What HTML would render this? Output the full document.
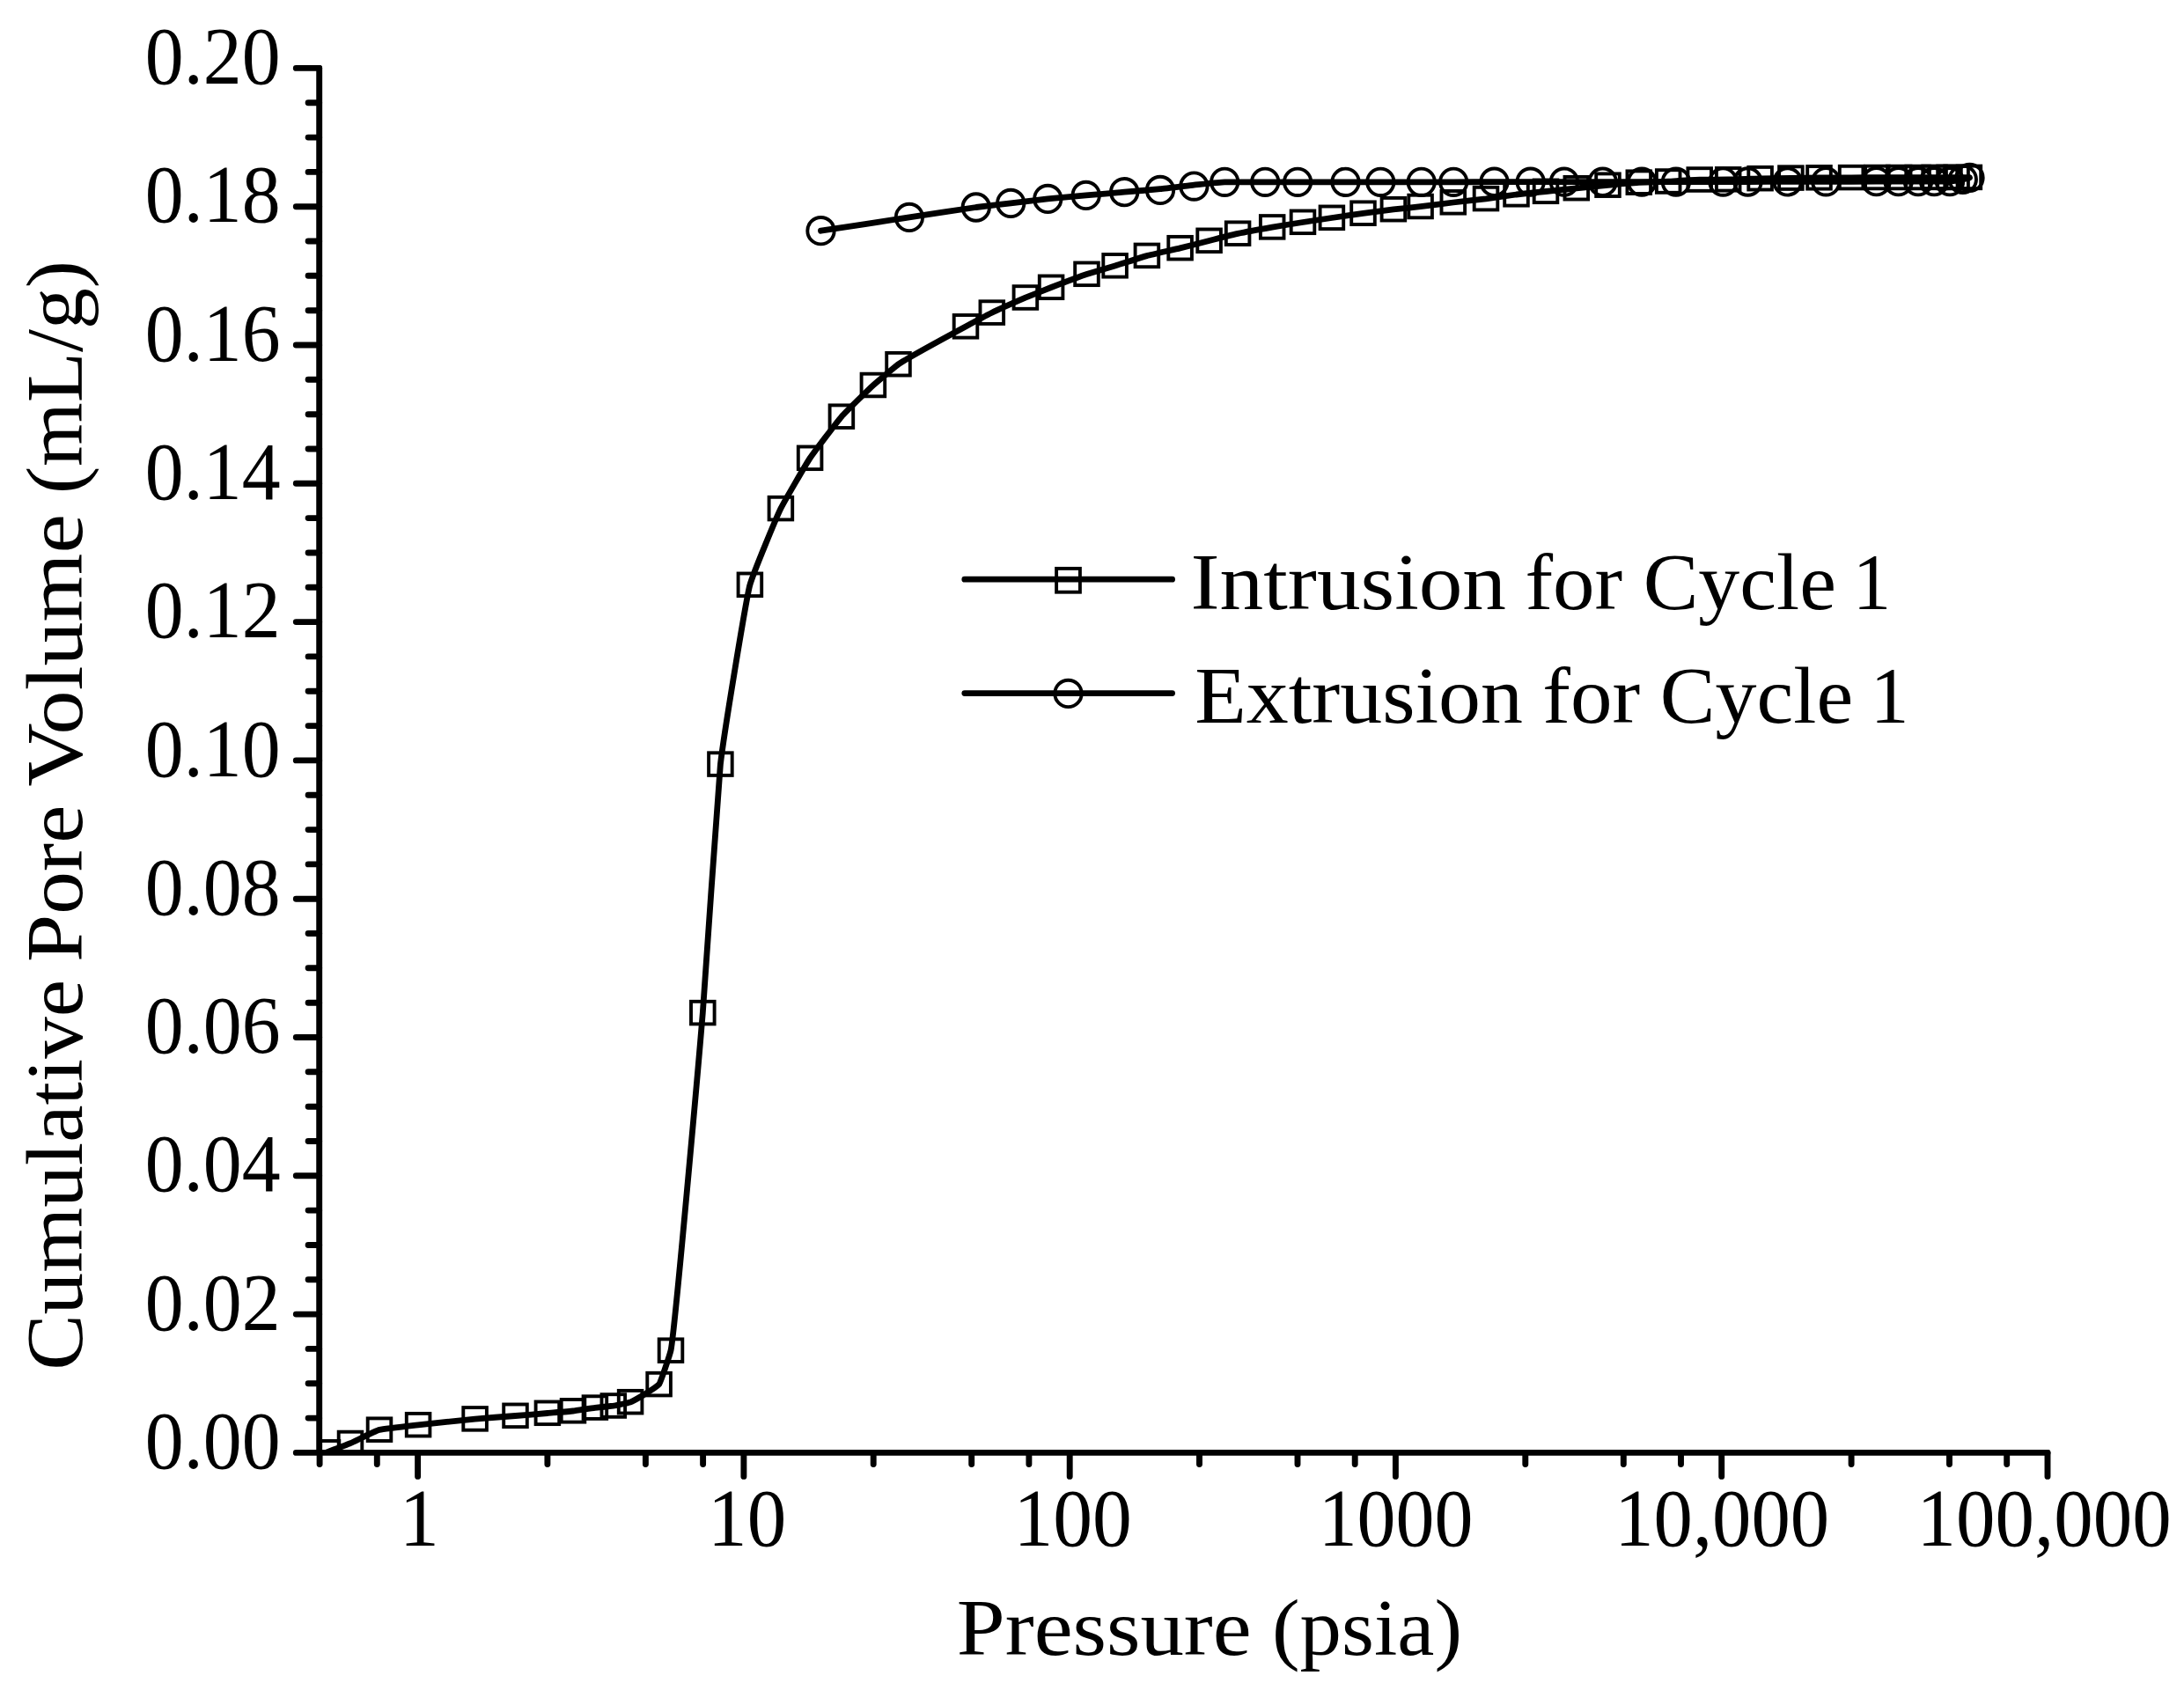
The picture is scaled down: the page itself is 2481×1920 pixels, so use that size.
<!DOCTYPE html>
<html lang="en"><head><meta charset="utf-8"><title>Cumulative Pore Volume vs Pressure</title>
<style>html,body{margin:0;padding:0;background:#fff}svg{display:block}text{font-family:"Liberation Serif","DejaVu Serif",serif;fill:#000}</style>
</head><body>
<svg width="2481" height="1920" viewBox="0 0 2481 1920">
<rect width="2481" height="1920" fill="#fff"/>
<defs><clipPath id="plot"><rect x="362.7" y="0" width="2100" height="1651.4"/></clipPath></defs>
<g fill="none" stroke="#000" stroke-linecap="round" stroke-linejoin="round">
<path clip-path="url(#plot)" stroke-width="6.8" d="M366.0 1652.0C369.7 1650.6 394.3 1641.3 398.0 1639.7C401.9 1638.1 427.1 1625.2 431.0 1624.4C436.1 1623.4 470.0 1619.5 475.1 1618.9C482.6 1618.0 532.1 1612.8 539.6 1612.1C545.0 1611.6 580.1 1608.9 585.5 1608.5C589.7 1608.2 617.7 1605.9 621.9 1605.5C625.3 1605.2 647.6 1603.4 651.0 1603.0C653.9 1602.7 673.0 1599.6 675.9 1599.3C678.3 1599.0 694.4 1597.5 696.8 1597.2C699.1 1596.9 713.8 1593.6 716.1 1592.9C719.9 1591.7 744.8 1577.0 748.6 1572.8C750.2 1571.1 760.4 1540.9 762.0 1534.4C766.2 1516.9 794.1 1202.6 798.3 1150.8C800.6 1122.1 816.1 888.9 818.4 868.3C822.3 834.0 848.0 678.3 851.9 664.5C856.0 650.1 882.8 586.1 886.9 577.8C890.8 569.9 916.2 526.3 920.1 520.5C924.3 514.3 951.7 478.1 955.9 473.4C960.1 468.6 987.7 441.5 991.9 437.7C995.2 434.7 1017.2 416.2 1020.5 413.9C1029.4 407.7 1088.1 375.8 1097.0 371.0C1100.5 369.1 1123.3 357.0 1126.8 355.3C1131.2 353.1 1160.5 340.1 1164.9 338.2C1168.3 336.8 1190.7 327.8 1194.1 326.5C1198.8 324.7 1229.8 313.0 1234.5 311.5C1238.2 310.3 1262.9 303.1 1266.6 302.0C1270.8 300.7 1298.7 291.7 1302.9 290.6C1307.3 289.4 1336.2 283.0 1340.6 281.9C1344.4 281.0 1369.8 274.5 1373.6 273.5C1377.4 272.5 1402.3 266.2 1406.1 265.4C1410.7 264.4 1440.6 258.9 1445.2 258.1C1449.3 257.4 1475.9 253.1 1480.0 252.5C1483.8 251.9 1509.1 248.1 1512.9 247.5C1517.1 246.9 1544.3 243.0 1548.5 242.4C1552.5 241.9 1578.9 238.4 1582.9 237.9C1586.5 237.5 1610.0 235.1 1613.6 234.7C1617.9 234.2 1646.5 230.5 1650.8 230.0C1655.1 229.5 1683.7 226.3 1688.0 225.8C1692.0 225.3 1718.5 221.5 1722.5 221.0C1726.4 220.5 1752.1 217.9 1756.0 217.5C1760.1 217.1 1786.7 214.3 1790.8 213.9C1795.0 213.5 1822.3 210.8 1826.5 210.4C1830.6 210.0 1857.7 207.6 1861.8 207.4C1865.7 207.2 1891.3 206.4 1895.2 206.2C1899.3 206.0 1926.6 204.2 1930.7 204.2C1934.5 204.2 1959.4 204.0 1963.2 204.0C1967.4 204.0 1995.4 203.0 1999.6 202.9C2003.7 202.8 2030.3 202.3 2034.4 202.3C2038.1 202.3 2062.8 202.0 2066.5 202.0C2070.8 202.0 2098.8 201.8 2103.1 201.8C2106.5 201.8 2129.0 201.7 2132.4 201.7C2135.3 201.7 2154.3 201.7 2157.2 201.7C2159.7 201.7 2176.1 201.7 2178.6 201.7C2180.8 201.7 2195.4 201.6 2197.6 201.6C2199.6 201.6 2212.5 201.6 2214.5 201.6C2215.4 201.6 2221.7 201.6 2222.6 201.6C2224.3 201.6 2235.2 201.6 2236.9 201.6"/>
<path stroke-width="6.8" d="M932.5 262.2C944.2 260.4 1021.2 248.7 1032.9 246.9C1041.8 245.6 1099.9 236.6 1108.8 235.5C1113.4 234.9 1143.6 231.4 1148.2 230.9C1153.1 230.3 1185.4 226.4 1190.3 225.9C1195.4 225.4 1228.6 222.3 1233.7 221.9C1238.8 221.5 1272.1 218.6 1277.2 218.2C1282.0 217.8 1313.2 215.2 1318.0 214.7C1322.5 214.3 1351.9 210.6 1356.4 210.1C1360.5 209.7 1387.1 206.8 1391.2 206.8C1396.6 206.8 1431.8 206.8 1437.2 206.8C1441.5 206.8 1469.8 206.8 1474.1 206.8C1480.4 206.8 1522.2 206.8 1528.5 206.8C1533.1 206.8 1563.7 206.8 1568.3 206.8C1573.7 206.8 1609.3 206.8 1614.7 206.8C1619.0 206.8 1646.9 206.8 1651.2 206.8C1656.6 206.8 1692.1 206.7 1697.5 206.7C1702.3 206.7 1733.9 206.7 1738.7 206.7C1743.2 206.7 1772.4 206.7 1776.9 206.7C1782.0 206.7 1815.6 206.7 1820.7 206.7C1825.9 206.7 1859.9 206.7 1865.1 206.7C1869.6 206.7 1899.4 206.7 1903.9 206.7C1910.1 206.7 1951.2 206.6 1957.4 206.6C1960.7 206.6 1982.2 206.5 1985.5 206.5C1990.8 206.5 2025.4 206.4 2030.7 206.4C2035.8 206.4 2069.2 206.3 2074.3 206.3C2081.0 206.3 2124.9 206.2 2131.6 206.2C2134.5 206.2 2153.7 206.2 2156.6 206.2C2159.2 206.2 2176.4 206.2 2179.0 206.2C2181.1 206.2 2195.1 206.2 2197.2 206.2C2199.3 206.2 2212.9 206.2 2215.0 206.2C2216.7 206.2 2228.1 204.1 2229.8 203.8C2230.7 203.6 2236.6 202.1 2237.5 201.9"/>
</g>
<g fill="none" stroke="#000" stroke-width="3.9" clip-path="url(#plot)">
<rect x="358.7" y="1637.0" width="26.6" height="25.6"/>
<rect x="384.7" y="1626.7" width="26.6" height="25.6"/>
<rect x="417.7" y="1611.4" width="26.6" height="25.6"/>
<rect x="461.8" y="1605.9" width="26.6" height="25.6"/>
<rect x="526.3" y="1599.1" width="26.6" height="25.6"/>
<rect x="572.2" y="1595.5" width="26.6" height="25.6"/>
<rect x="608.6" y="1592.5" width="26.6" height="25.6"/>
<rect x="637.7" y="1590.0" width="26.6" height="25.6"/>
<rect x="662.6" y="1586.3" width="26.6" height="25.6"/>
<rect x="683.5" y="1584.2" width="26.6" height="25.6"/>
<rect x="702.8" y="1579.9" width="26.6" height="25.6"/>
<rect x="735.3" y="1559.8" width="26.6" height="25.6"/>
<rect x="748.7" y="1521.4" width="26.6" height="25.6"/>
<rect x="785.0" y="1137.8" width="26.6" height="25.6"/>
<rect x="805.1" y="855.3" width="26.6" height="25.6"/>
<rect x="838.6" y="651.5" width="26.6" height="25.6"/>
<rect x="873.6" y="564.8" width="26.6" height="25.6"/>
<rect x="906.8" y="507.5" width="26.6" height="25.6"/>
<rect x="942.6" y="460.4" width="26.6" height="25.6"/>
<rect x="978.6" y="424.7" width="26.6" height="25.6"/>
<rect x="1007.2" y="400.9" width="26.6" height="25.6"/>
<rect x="1083.7" y="358.0" width="26.6" height="25.6"/>
<rect x="1113.5" y="342.3" width="26.6" height="25.6"/>
<rect x="1151.6" y="325.2" width="26.6" height="25.6"/>
<rect x="1180.8" y="313.5" width="26.6" height="25.6"/>
<rect x="1221.2" y="298.5" width="26.6" height="25.6"/>
<rect x="1253.3" y="289.0" width="26.6" height="25.6"/>
<rect x="1289.6" y="277.6" width="26.6" height="25.6"/>
<rect x="1327.3" y="268.9" width="26.6" height="25.6"/>
<rect x="1360.3" y="260.5" width="26.6" height="25.6"/>
<rect x="1392.8" y="252.4" width="26.6" height="25.6"/>
<rect x="1431.9" y="245.1" width="26.6" height="25.6"/>
<rect x="1466.7" y="239.5" width="26.6" height="25.6"/>
<rect x="1499.6" y="234.5" width="26.6" height="25.6"/>
<rect x="1535.2" y="229.4" width="26.6" height="25.6"/>
<rect x="1569.6" y="224.9" width="26.6" height="25.6"/>
<rect x="1600.3" y="221.7" width="26.6" height="25.6"/>
<rect x="1637.5" y="217.0" width="26.6" height="25.6"/>
<rect x="1674.7" y="212.8" width="26.6" height="25.6"/>
<rect x="1709.2" y="208.0" width="26.6" height="25.6"/>
<rect x="1742.7" y="204.5" width="26.6" height="25.6"/>
<rect x="1777.5" y="200.9" width="26.6" height="25.6"/>
<rect x="1813.2" y="197.4" width="26.6" height="25.6"/>
<rect x="1848.5" y="194.4" width="26.6" height="25.6"/>
<rect x="1881.9" y="193.2" width="26.6" height="25.6"/>
<rect x="1917.4" y="191.2" width="26.6" height="25.6"/>
<rect x="1949.9" y="191.0" width="26.6" height="25.6"/>
<rect x="1986.3" y="189.9" width="26.6" height="25.6"/>
<rect x="2021.1" y="189.3" width="26.6" height="25.6"/>
<rect x="2053.2" y="189.0" width="26.6" height="25.6"/>
<rect x="2089.8" y="188.8" width="26.6" height="25.6"/>
<rect x="2119.1" y="188.7" width="26.6" height="25.6"/>
<rect x="2143.9" y="188.7" width="26.6" height="25.6"/>
<rect x="2165.3" y="188.7" width="26.6" height="25.6"/>
<rect x="2184.3" y="188.6" width="26.6" height="25.6"/>
<rect x="2201.2" y="188.6" width="26.6" height="25.6"/>
<rect x="2209.3" y="188.6" width="26.6" height="25.6"/>
<rect x="2223.6" y="188.6" width="26.6" height="25.6"/>
<circle cx="932.5" cy="262.2" r="15.2"/>
<circle cx="1032.9" cy="246.9" r="15.2"/>
<circle cx="1108.8" cy="235.5" r="15.2"/>
<circle cx="1148.2" cy="230.9" r="15.2"/>
<circle cx="1190.3" cy="225.9" r="15.2"/>
<circle cx="1233.7" cy="221.9" r="15.2"/>
<circle cx="1277.2" cy="218.2" r="15.2"/>
<circle cx="1318.0" cy="215.9" r="15.2"/>
<circle cx="1356.4" cy="211.6" r="15.2"/>
<circle cx="1391.2" cy="206.8" r="15.2"/>
<circle cx="1437.2" cy="206.8" r="15.2"/>
<circle cx="1474.1" cy="206.8" r="15.2"/>
<circle cx="1528.5" cy="206.8" r="15.2"/>
<circle cx="1568.3" cy="206.8" r="15.2"/>
<circle cx="1614.7" cy="206.8" r="15.2"/>
<circle cx="1651.2" cy="206.8" r="15.2"/>
<circle cx="1697.5" cy="206.7" r="15.2"/>
<circle cx="1738.7" cy="206.7" r="15.2"/>
<circle cx="1776.9" cy="206.7" r="15.2"/>
<circle cx="1820.7" cy="206.7" r="15.2"/>
<circle cx="1865.1" cy="206.7" r="15.2"/>
<circle cx="1903.9" cy="206.7" r="15.2"/>
<circle cx="1957.4" cy="206.6" r="15.2"/>
<circle cx="1985.5" cy="206.5" r="15.2"/>
<circle cx="2030.7" cy="206.4" r="15.2"/>
<circle cx="2074.3" cy="206.3" r="15.2"/>
<circle cx="2131.6" cy="206.2" r="15.2"/>
<circle cx="2156.6" cy="206.2" r="15.2"/>
<circle cx="2179.0" cy="206.2" r="15.2"/>
<circle cx="2197.2" cy="206.2" r="15.2"/>
<circle cx="2215.0" cy="206.2" r="15.2"/>
<circle cx="2229.8" cy="203.8" r="15.2"/>
<circle cx="2237.5" cy="201.9" r="15.2"/>
</g>
<g fill="none" stroke="#000" stroke-width="6.9" stroke-linecap="round">
<path d="M362.7 77.4 V1650.4"/>
<path d="M362.7 1650.4 H2326.0"/>
<path d="M362.7 1650.4h-26.4M362.7 1611.1h-12.6M362.7 1571.8h-12.6M362.7 1532.4h-12.6M362.7 1493.1h-26.4M362.7 1453.8h-12.6M362.7 1414.5h-12.6M362.7 1375.1h-12.6M362.7 1335.8h-26.4M362.7 1296.5h-12.6M362.7 1257.2h-12.6M362.7 1217.8h-12.6M362.7 1178.5h-26.4M362.7 1139.2h-12.6M362.7 1099.8h-12.6M362.7 1060.5h-12.6M362.7 1021.2h-26.4M362.7 981.9h-12.6M362.7 942.6h-12.6M362.7 903.2h-12.6M362.7 863.9h-26.4M362.7 824.6h-12.6M362.7 785.3h-12.6M362.7 745.9h-12.6M362.7 706.6h-26.4M362.7 667.3h-12.6M362.7 628.0h-12.6M362.7 588.6h-12.6M362.7 549.3h-26.4M362.7 510.0h-12.6M362.7 470.7h-12.6M362.7 431.3h-12.6M362.7 392.0h-26.4M362.7 352.7h-12.6M362.7 313.3h-12.6M362.7 274.0h-12.6M362.7 234.7h-26.4M362.7 195.4h-12.6M362.7 156.1h-12.6M362.7 116.7h-12.6M362.7 77.4h-26.4"/>
<path d="M363.1 1650.4v13.2M428.3 1650.4v13.2M474.6 1650.4v27.0M621.9 1650.4v13.2M733.4 1650.4v13.2M798.6 1650.4v13.2M844.9 1650.4v27.0M992.2 1650.4v13.2M1103.7 1650.4v13.2M1168.9 1650.4v13.2M1215.2 1650.4v27.0M1362.5 1650.4v13.2M1474.0 1650.4v13.2M1539.2 1650.4v13.2M1585.4 1650.4v27.0M1732.8 1650.4v13.2M1844.3 1650.4v13.2M1909.5 1650.4v13.2M1955.7 1650.4v27.0M2103.1 1650.4v13.2M2214.5 1650.4v13.2M2279.7 1650.4v13.2M2326.0 1650.4v27.0"/>
</g>
<text font-size="92.5" x="164.83" y="1668.0" textLength="153.73" lengthAdjust="spacingAndGlyphs">0.00</text>
<text font-size="92.5" x="164.83" y="1510.7" textLength="153.73" lengthAdjust="spacingAndGlyphs">0.02</text>
<text font-size="92.5" x="164.83" y="1353.4" textLength="153.73" lengthAdjust="spacingAndGlyphs">0.04</text>
<text font-size="92.5" x="164.83" y="1196.1" textLength="153.73" lengthAdjust="spacingAndGlyphs">0.06</text>
<text font-size="92.5" x="164.83" y="1038.8" textLength="153.73" lengthAdjust="spacingAndGlyphs">0.08</text>
<text font-size="92.5" x="164.83" y="881.5" textLength="153.73" lengthAdjust="spacingAndGlyphs">0.10</text>
<text font-size="92.5" x="164.83" y="724.2" textLength="153.73" lengthAdjust="spacingAndGlyphs">0.12</text>
<text font-size="92.5" x="164.83" y="566.9" textLength="153.73" lengthAdjust="spacingAndGlyphs">0.14</text>
<text font-size="92.5" x="164.83" y="409.6" textLength="153.73" lengthAdjust="spacingAndGlyphs">0.16</text>
<text font-size="92.5" x="164.83" y="252.3" textLength="153.73" lengthAdjust="spacingAndGlyphs">0.18</text>
<text font-size="92.5" x="164.83" y="95.0" textLength="153.73" lengthAdjust="spacingAndGlyphs">0.20</text>
<text font-size="92.5" x="453.69" y="1756.2" textLength="45.14" lengthAdjust="spacingAndGlyphs">1</text>
<text font-size="92.5" x="804.10" y="1756.2" textLength="89.09" lengthAdjust="spacingAndGlyphs">10</text>
<text font-size="92.5" x="1151.48" y="1756.2" textLength="134.43" lengthAdjust="spacingAndGlyphs">100</text>
<text font-size="92.5" x="1497.69" y="1756.2" textLength="175.72" lengthAdjust="spacingAndGlyphs">1000</text>
<text font-size="92.5" x="1834.26" y="1756.2" textLength="243.92" lengthAdjust="spacingAndGlyphs">10,000</text>
<text font-size="92.5" x="2177.49" y="1756.2" textLength="289.25" lengthAdjust="spacingAndGlyphs">100,000</text>
<text font-size="90.0" y="1880.2"><tspan x="1086.75" textLength="334.91" lengthAdjust="spacingAndGlyphs">Pressure</tspan> <tspan x="1445.03" textLength="215.95" lengthAdjust="spacingAndGlyphs">(psia)</tspan></text>
<text font-size="90.0" transform="translate(92.5 0) rotate(-90)"><tspan x="-1556.87" textLength="443.93" lengthAdjust="spacingAndGlyphs">Cumulative</tspan> <tspan x="-1092.92" textLength="178.27" lengthAdjust="spacingAndGlyphs">Pore</tspan> <tspan x="-893.82" textLength="309.68" lengthAdjust="spacingAndGlyphs">Volume</tspan> <tspan x="-561.13" textLength="265.05" lengthAdjust="spacingAndGlyphs">(mL/g)</tspan></text>
<text font-size="90.0" y="691.5"><tspan x="1352.55" textLength="358.47" lengthAdjust="spacingAndGlyphs">Intrusion</tspan> <tspan x="1732.51" textLength="110.71" lengthAdjust="spacingAndGlyphs">for</tspan> <tspan x="1866.68" textLength="219.24" lengthAdjust="spacingAndGlyphs">Cycle</tspan> <tspan x="2104.65" textLength="43.43" lengthAdjust="spacingAndGlyphs">1</tspan></text>
<text font-size="90.0" y="820.9"><tspan x="1357.16" textLength="372.85" lengthAdjust="spacingAndGlyphs">Extrusion</tspan> <tspan x="1752.29" textLength="110.75" lengthAdjust="spacingAndGlyphs">for</tspan> <tspan x="1885.88" textLength="219.24" lengthAdjust="spacingAndGlyphs">Cycle</tspan> <tspan x="2124.64" textLength="43.73" lengthAdjust="spacingAndGlyphs">1</tspan></text>
<g fill="none" stroke="#000" stroke-linecap="round">
<path stroke-width="6.8" d="M1095.8 658.2H1331.6M1095.8 787.6H1331.6"/>
<rect x="1200.1" y="645.9" width="26.8" height="26.8" stroke-width="3.9"/>
<circle cx="1213.5" cy="787.9" r="15.2" stroke-width="3.9"/>
</g>
</svg></body></html>
